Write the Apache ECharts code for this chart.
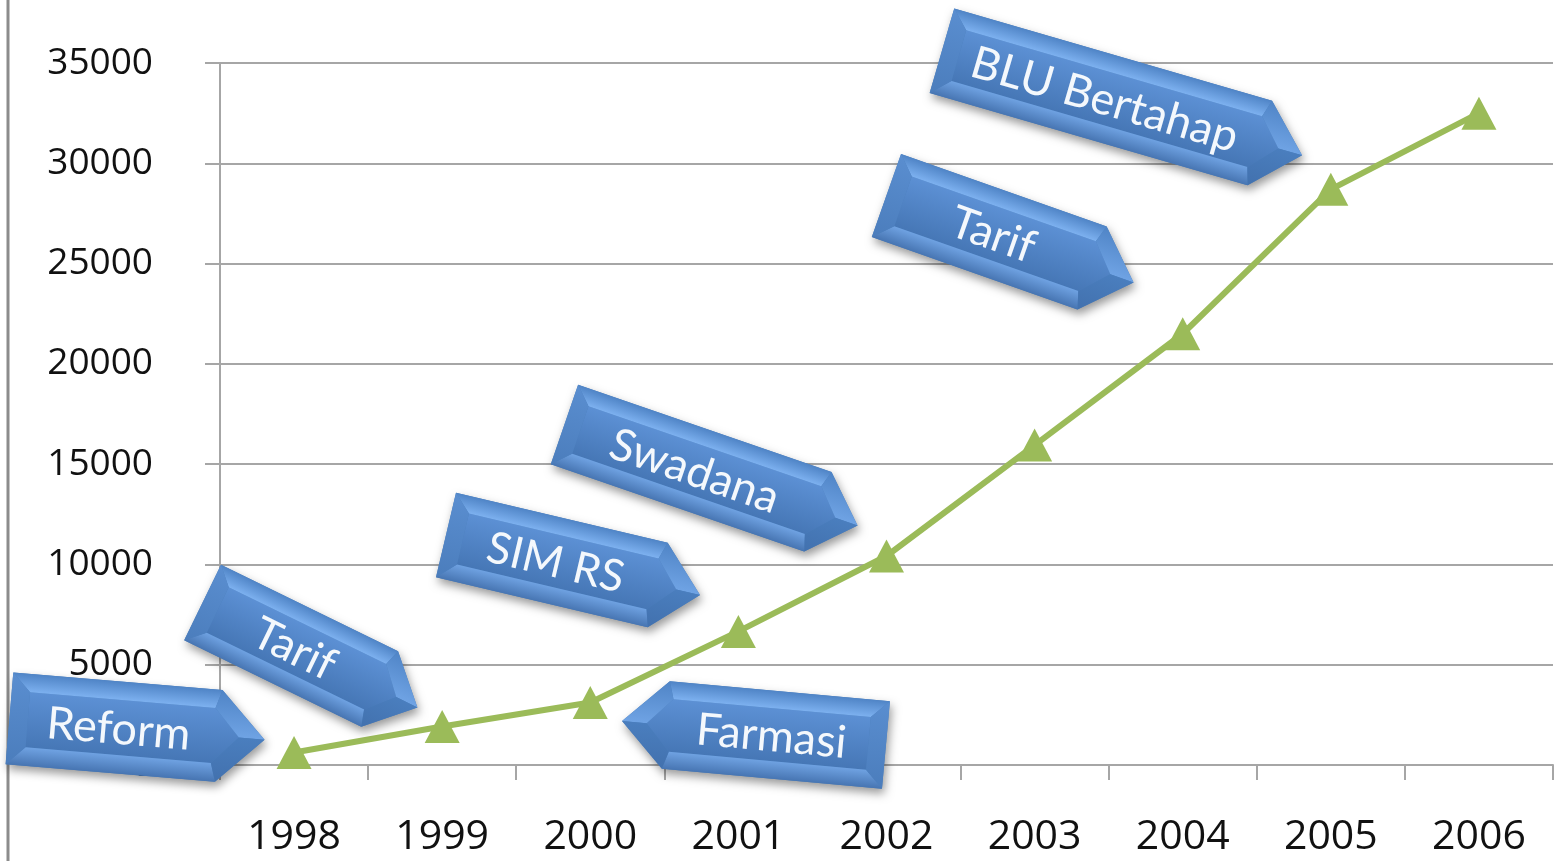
<!DOCTYPE html>
<html>
<head>
<meta charset="utf-8">
<script src="https://cdn.jsdelivr.net/npm/echarts@6/dist/echarts.min.js"></script>
<style>html,body{margin:0;padding:0;background:#fff}#c{width:1557px;height:861px}</style>
</head>
<body>
<div id="c"></div>
<script>
const years = ['1998','1999','2000','2001','2002','2003','2004','2005','2006'];
const values = [620, 1920, 3120, 6660, 10420, 15950, 21500, 28700, 32500];
const yTicks = { min: 0, max: 35000, interval: 5000 };
const arrowLabels = ['Reform','Tarif','SIM RS','Swadana','Farmasi','Tarif','BLU Bertahap'];

const AXIS_FONT = "'Open Sans', sans-serif";
const ARROW_FONT = "Lato, 'Open Sans', sans-serif";

function arrow(cx, cy, L, H, ang, text, dir, fs) {
  const h = H * 0.5, b = H * 0.2;
  const x0 = -L/2, x1 = L/2 - h, x2 = L/2, y0 = -H/2, y1 = H/2;
  const ix0 = x0 + b, ix1 = x1 - b*0.3, ix2 = x2 - b*1.4, iy0 = y0 + b, iy1 = y1 - b;
  const m = p => p.map(([x, y]) => [x * dir, y]);
  const poly = (pts, fill, extra) => Object.assign({ type: 'polygon', z: 100, shape: { points: m(pts) }, style: { fill: fill } }, extra || {});
  const vg = (c0, c1) => ({ type: 'linear', x: 0, y: 0, x2: 0, y2: 1, colorStops: [{ offset: 0, color: c0 }, { offset: 1, color: c1 }] });
  return {
    type: 'group', x: cx, y: cy, rotation: -ang * Math.PI / 180, z: 100,
    children: [
      poly([[x0,y0],[x1,y0],[x2,0],[x1,y1],[x0,y1]], '#4A7EBB', { style: { fill: '#4A7EBB', shadowBlur: 10, shadowColor: 'rgba(0,0,0,0.4)', shadowOffsetY: 5, shadowOffsetX: 2 } }),
      poly([[ix0,iy0],[ix1,iy0],[ix2,0],[ix1,iy1],[ix0,iy1]], vg('#5C90D4', '#4677B6')),
      poly([[x0,y0],[x1,y0],[ix1,iy0],[ix0,iy0]], vg('#4F84C6', '#7DB1F0')),
      poly([[x0,y1],[x1,y1],[ix1,iy1],[ix0,iy1]], vg('#6FA2E2', '#4775B2')),
      poly([[x0,y0],[ix0,iy0],[ix0,iy1],[x0,y1]], vg('#5A8ED0', '#4B7DBC')),
      poly([[x1,y0],[x2,0],[ix2,0],[ix1,iy0]], vg('#4F84C6', '#6FA3E4')),
      poly([[x1,y1],[x2,0],[ix2,0],[ix1,iy1]], vg('#4A7EBE', '#4271AE')),
      { type: 'text', z: 101, x: -h * 0.4 * dir, y: 2, style: { text: text, fill: '#F4F8FC', fontSize: fs, fontFamily: ARROW_FONT, align: 'center', verticalAlign: 'middle' } }
    ]
  };
}

const chart = echarts.init(document.getElementById('c'), null, { renderer: 'canvas' });
chart.setOption({
  animation: false,
  backgroundColor: '#ffffff',
  grid: { left: 220, right: 4, top: 63, bottom: 96, containLabel: false },
  xAxis: {
    type: 'category', data: years, boundaryGap: true,
    axisLine: { lineStyle: { color: '#A6A6A6', width: 2 } },
    axisTick: { show: true, length: 15, lineStyle: { color: '#A6A6A6', width: 2 } },
    axisLabel: { margin: 52, fontSize: 41, color: '#111', fontFamily: AXIS_FONT }
  },
  yAxis: {
    type: 'value', min: yTicks.min, max: yTicks.max, interval: yTicks.interval,
    axisLine: { show: true, lineStyle: { color: '#A6A6A6', width: 2 } },
    axisTick: { show: true, length: 15, lineStyle: { color: '#A6A6A6', width: 2 } },
    splitLine: { lineStyle: { color: '#A6A6A6', width: 2 } },
    axisLabel: { margin: 67, fontSize: 37, color: '#111', fontFamily: AXIS_FONT, formatter: v => String(v) }
  },
  series: [{
    type: 'line', data: values,
    lineStyle: { color: '#9BBB59', width: 6 },
    itemStyle: { color: '#9BBB59' },
    symbol: 'triangle', symbolSize: [35, 33], showSymbol: true, z: 5
  }],
  graphic: [
    { type: 'line', shape: { x1: 8, y1: 0, x2: 8, y2: 861 }, style: { stroke: '#8C8C8C', lineWidth: 3 }, z: 90 },
    arrow(137, 729, 256, 92, 4.8, arrowLabels[0], 1, 45),
    arrow(310, 655, 239, 84, 26, arrowLabels[1], 1, 45),
    arrow(573, 565, 261, 87, 13.3, arrowLabels[2], 1, 44),
    arrow(711, 475, 310, 84, 19, arrowLabels[3], 1, 45),
    arrow(754, 733, 265, 88, 5.2, arrowLabels[4], -1, 45),
    arrow(1010, 239, 262, 88, 19.4, arrowLabels[5], 1, 45),
    arrow(1122, 103, 375, 88, 16.2, arrowLabels[6], 1, 45)
  ]
});
</script>
</body>
</html>
